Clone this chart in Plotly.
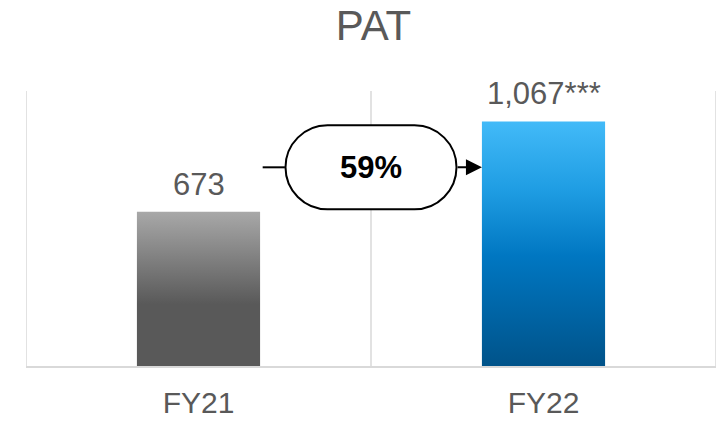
import plotly.graph_objects as go

# ---- data ----
categories = ["FY21", "FY22"]
pat_values = [673, 1067]
label_suffix = ["", "***"]
growth_label = "59%"
title_text = "PAT"

gray_scale = [[0, "#595959"], [0.4, "#595959"], [1, "#a8a8a8"]]
blue_scale = [[0, "#00538a"], [0.45, "#0077c2"], [0.72, "#1f9de3"], [1, "#42baf8"]]
bar_scales = [gray_scale, blue_scale]

BAR_W = 0.357
FONT = "Liberation Sans, Arial, sans-serif"
TXT = "#595959"
GRID = "#d9d9d9"

fig = go.Figure()

for i, (cat, val) in enumerate(zip(categories, pat_values)):
    x0, x1 = i - BAR_W / 2, i + BAR_W / 2
    fig.add_trace(go.Scatter(
        x=[x0, x1, x1, x0, x0],
        y=[0, 0, val, val, 0],
        mode="lines",
        fill="toself",
        line=dict(width=0, color="rgba(0,0,0,0)"),
        fillgradient=dict(type="vertical", colorscale=bar_scales[i], start=0, stop=val),
        hoverinfo="skip",
        showlegend=False,
    ))
    fig.add_annotation(
        x=i, y=val, xref="x", yref="y",
        text=f"{val:,}{label_suffix[i]}",
        showarrow=False, yanchor="bottom", yshift=8,
        font=dict(family=FONT, size=31, color=TXT),
    )

# category separator lines
for xv in [-0.5, 0.5, 1.5]:
    fig.add_shape(type="line", x0=xv, x1=xv, y0=0, y1=1, xref="x", yref="paper",
                  line=dict(color=GRID, width=1.5), layer="below")

# growth badge (stadium shape)
Y_MID = 867
hw, hh, r = 85.5, 42, 42
s = hw - r
k = 0.5523 * r
path = (f"M {-s},{-hh} L {s},{-hh} "
        f"C {s + k},{-hh} {hw},{-k} {hw},0 "
        f"C {hw},{k} {s + k},{hh} {s},{hh} "
        f"L {-s},{hh} "
        f"C {-s - k},{hh} {-hw},{k} {-hw},0 "
        f"C {-hw},{-k} {-s - k},{-hh} {-s},{-hh} Z")
fig.add_shape(type="path", path=path, xsizemode="pixel", ysizemode="pixel",
              xanchor=0.5, yanchor=Y_MID, xref="x", yref="y",
              line=dict(color="black", width=2), fillcolor="white")
fig.add_annotation(x=0.5, y=Y_MID, xref="x", yref="y", text=f"<b>{growth_label}</b>",
                   showarrow=False, font=dict(family=FONT, size=31, color="black"))
# connector lines
fig.add_shape(type="line", x0=0.186, x1=0.2505, y0=Y_MID, y1=Y_MID, xref="x", yref="y",
              line=dict(color="black", width=2))
fig.add_annotation(x=1 - BAR_W / 2, y=Y_MID, ax=0.7467, ay=Y_MID,
                   xref="x", yref="y", axref="x", ayref="y",
                   text="", showarrow=True, arrowhead=2, arrowsize=1.6,
                   arrowwidth=2, arrowcolor="black", standoff=0)

fig.update_layout(
    width=718, height=413,
    margin=dict(l=18, r=10, t=83, b=55, autoexpand=False),
    paper_bgcolor="white", plot_bgcolor="white",
    title=dict(text=title_text, x=0.509, xanchor="center", y=0.9588, yanchor="middle",
               font=dict(family=FONT, size=42, color=TXT)),
    showlegend=False,
)
fig.update_xaxes(
    range=[-0.5, 1.5], tickvals=[0, 1], ticktext=categories,
    showgrid=False, zeroline=False, automargin=False,
    showline=True, linecolor=GRID, linewidth=1.5,
    ticks="", ticklabelstandoff=9,
    tickfont=dict(family=FONT, size=30, color=TXT),
)
fig.update_yaxes(range=[0, 1200], showgrid=False, zeroline=False, showticklabels=False,
                 showline=False, automargin=False)

fig.write_html("out.html")
